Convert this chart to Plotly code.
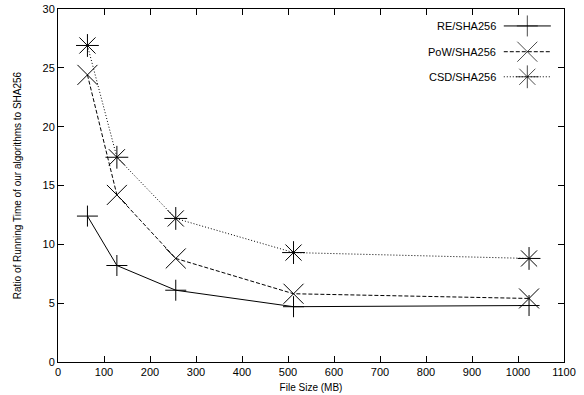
import plotly.graph_objects as go

file_size = [64, 128, 256, 512, 1024]
re_ratio = [12.4, 8.2, 6.1, 4.7, 4.8]
pow_ratio = [24.4, 14.2, 8.8, 5.8, 5.4]
csd_ratio = [26.9, 17.4, 12.2, 9.3, 8.8]

names = ["RE/SHA256", "PoW/SHA256", "CSD/SHA256"]
series = [re_ratio, pow_ratio, csd_ratio]
dashes = ["solid", "4px,2px", "1px,2px"]
symbols = ["cross-thin-open", "x-thin-open", "asterisk-open"]
sizes = [15, 20, 19]

x_ticks = list(range(0, 1101, 100))
y_ticks = list(range(0, 31, 5))

FONT = "Liberation Sans, Arial, Helvetica, sans-serif"

fig = go.Figure()
for nm, ys, d, s, sz in zip(names, series, dashes, symbols, sizes):
    fig.add_trace(go.Scatter(
        x=file_size, y=ys, mode="lines+markers", name=nm, showlegend=False,
        line=dict(color="black", width=1, dash=d),
        marker=dict(symbol=s, size=sz, color="black", line=dict(color="black", width=1)),
    ))

# manual gnuplot-style legend (text left of sample) on an overlay axis
leg_x0, leg_x1 = 0.881, 0.974
leg_y = [0.952, 0.879, 0.808]
for nm, d, s, sz, ly in zip(names, dashes, symbols, sizes, leg_y):
    fig.add_trace(go.Scatter(
        x=[leg_x0, (leg_x0 + leg_x1) / 2, leg_x1], y=[ly, ly, ly],
        xaxis="x2", yaxis="y2", mode="lines+markers", showlegend=False, hoverinfo="skip",
        line=dict(color="black", width=1, dash=d),
        marker=dict(symbol=s, size=[0, sz, 0], color="black", line=dict(color="black", width=1)),
    ))
    fig.add_annotation(x=leg_x0 - 0.012, y=ly, xref="x2", yref="y2", text=nm,
                       showarrow=False, xanchor="right", yanchor="middle",
                       font=dict(family=FONT, size=11, color="black"))

axis_common = dict(
    showline=True, linecolor="black", linewidth=1, mirror="ticks",
    ticks="inside", ticklen=6, tickcolor="black", tickwidth=1,
    showgrid=False, zeroline=False, automargin=False,
    tickfont=dict(family=FONT, size=11, color="black"),
)

fig.update_layout(
    width=584, height=395,
    margin=dict(l=58, r=20, t=9, b=33, autoexpand=False),
    plot_bgcolor="white", paper_bgcolor="white",
    xaxis=dict(range=[0, 1100], tickmode="array", tickvals=x_ticks,
               title=dict(text="File Size (MB)", font=dict(family=FONT, size=10, color="black"), standoff=6),
               **axis_common),
    yaxis=dict(range=[0, 30], tickmode="array", tickvals=y_ticks,
               title=dict(text="Ratio of Running Time of our algorithms to SHA256",
                          font=dict(family=FONT, size=10, color="black"), standoff=19),
               **axis_common),
    xaxis2=dict(range=[0, 1], overlaying="x", visible=False, fixedrange=True),
    yaxis2=dict(range=[0, 1], overlaying="y", visible=False, fixedrange=True),
)

fig.write_html("out.html", config={"displayModeBar": False},
               post_script="document.body.style.margin='0';document.body.style.padding='0';")
